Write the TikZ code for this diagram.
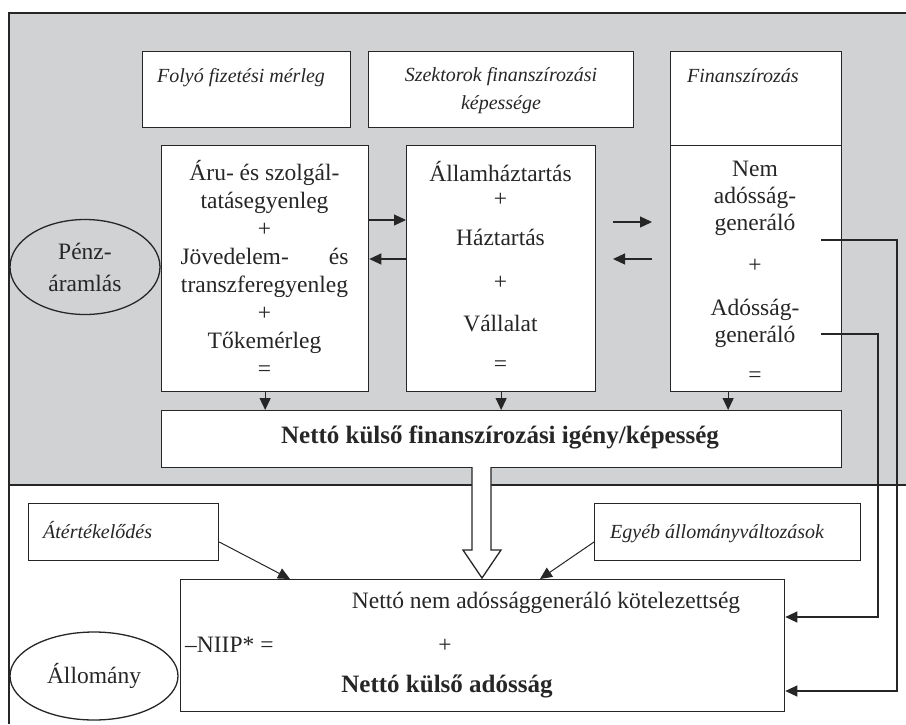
\documentclass[tikz,border=0pt]{standalone}
\usepackage{fontspec}
\setmainfont{Liberation Serif}
\usetikzlibrary{arrows.meta,shapes.geometric}
\definecolor{bggray}{RGB}{209,210,212}
\tikzset{
  box/.style={draw=black!85, fill=white, line width=1.3pt, inner sep=0pt, anchor=north west},
  txt/.style={font=\fontsize{23.5}{28}\selectfont, text=black!85, inner sep=0pt, align=center},
  bld/.style={font=\fontsize{25}{28}\selectfont\bfseries, text=black!85, inner sep=0pt},
  itx/.style={font=\fontsize{20}{28}\selectfont\itshape, text=black!85, inner sep=0pt},
  arr/.style={-{Triangle[length=12pt,width=11pt]}, line width=1.2pt, draw=black!85},
  wire/.style={line width=1.2pt, draw=black!85},
  oval/.style={ellipse, draw=black!85, line width=1.3pt, inner sep=0pt, font=\fontsize{23.5}{32}\selectfont, text=black!85, align=center}
}
\begin{document}
\begin{tikzpicture}[x=1pt,y=-1pt]
\useasboundingbox (0,0) rectangle (906,724);
% frame
\fill[bggray] (9,13) rectangle (906,485);
\draw[line width=2pt, draw=black!85] (9,724) -- (9,13) -- (906,13);
\draw[line width=1.5pt, draw=black!85] (9,485) -- (906,485);

% header boxes
\node[box, minimum width=208pt, minimum height=76pt] (fol) at (142,51) {};
\node[itx, anchor=base west] (folt) at (157,82) {Folyó fizetési mérleg};
\node[box, minimum width=265pt, minimum height=76pt] (szek) at (368,51) {};
\node[itx, anchor=base, align=center] (szekt) at (501,109) {Szektorok finanszírozási\\képessége};
\node[box, minimum width=171pt, minimum height=94pt] (fin) at (670,51) {};
\node[itx, anchor=base west] (fint) at (687,82) {Finanszírozás};

% content boxes
\node[box, minimum width=207pt, minimum height=246pt] (lbox) at (161,145) {};
\node[txt] (lboxt) at (264.5,268) {Áru- és szolgál-\\tatásegyenleg\\+\\\hbox to 168pt{Jövedelem-\hfill és}\\transzferegyenleg\\+\\Tőkemérleg\\=};
\node[box, minimum width=189pt, minimum height=246pt] (mbox) at (406,145) {};
\node[txt] (mboxt) at (500.5,266) {Államháztartás\\[-3pt]+\\[11pt]Háztartás\\[16pt]+\\[14pt]Vállalat\\[12pt]=};
\node[box, minimum width=171pt, minimum height=246pt] (rbox) at (670,145) {};
\node[txt] (rboxt) at (755,272) {Nem\\[-1pt]adósság-\\[-1pt]generáló\\[14pt]+\\[15pt]Adósság-\\[-1pt]generáló\\[12pt]=};

% net box
\node[box, minimum width=680pt, minimum height=57pt] (net) at (161,410) {};
\node[bld] (nett) at (500,437) {Nettó külső finanszírozási igény/képesség};

% ellipse
\node[oval, minimum width=150pt, minimum height=95pt] (penz) at (85,267) {Pénz-\\áramlás};

% arrows between boxes
\coordinate (ya) at (0,220);
\coordinate (yb) at (0,259);
\draw[arr] (lbox.east |- ya) -- (mbox.west |- ya);
\draw[arr] (mbox.west |- yb) -- (lbox.east |- yb);
\coordinate (fa1) at (613,222);
\coordinate (fa2) at (652,222);
\coordinate (fb1) at (652,259);
\coordinate (fb2) at (613,259);
\draw[arr] (fa1) -- (fa2);
\draw[arr] (fb1) -- (fb2);

% down arrows
\draw[arr] (lbox.south) -- (lbox.south |- net.north);
\draw[arr] (mbox.south) -- (mbox.south |- net.north);
\draw[arr] ([xshift=-28pt]rbox.south) -- ([xshift=-28pt]rbox.south |- net.north);

% lower part
\node[box, minimum width=604pt, minimum height=132pt] (low) at (180,579) {};
\node[txt, anchor=base] (lowa) at (546,608) {Nettó nem adóssággeneráló kötelezettség};
\node[txt, anchor=base west] (lowb) at (185,652) {–NIIP* =};
\node[txt, anchor=base] (lowc) at (445,652) {+};
\node[bld, anchor=base] (lowd) at (447,692) {Nettó külső adósság};

\node[box, minimum width=190pt, minimum height=57pt] (atert) at (28,503) {};
\node[itx, anchor=base west] (atertt) at (43,538) {Átértékelődés};
\node[box, minimum width=266pt, minimum height=57pt] (egyeb) at (594,503) {};
\node[itx, anchor=base west] (egyebt) at (610,538) {Egyéb állományváltozások};

\node[oval, minimum width=168pt, minimum height=88pt] (allo) at (94,676) {Állomány};

\coordinate (ta) at (290,579);
\coordinate (te) at (540,579);
\draw[arr, line width=1pt] (atert.east |- 0,542) -- (ta);
\draw[arr, line width=1pt] (egyeb.west |- 0,542) -- (te);

% hollow arrow
\draw[line width=1.3pt, draw=black!85, fill=white]
  (472,467) -- (472,550) -- (463,550) -- (482,578) -- (501,550) -- (491,550) -- (491,467);

% elbow connectors
\coordinate (e1) at (821,240);
\coordinate (e2) at (821,334);
\draw[wire, arr] (e1) -| (897,691) -- (low.east |- 0,691);
\draw[wire, arr] (e2) -| (878,617) -- (low.east |- 0,617);
\end{tikzpicture}
\end{document}
